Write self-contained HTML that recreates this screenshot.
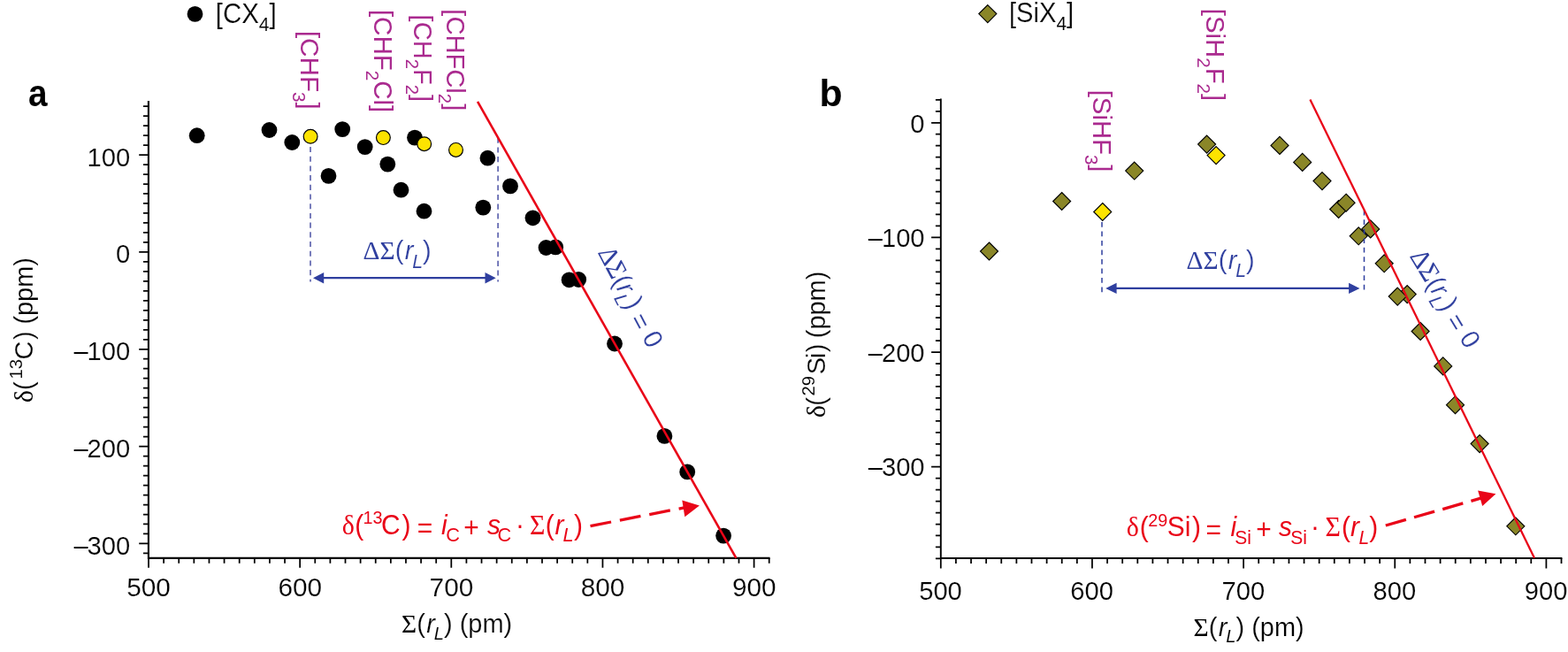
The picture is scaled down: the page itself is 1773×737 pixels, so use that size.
<!DOCTYPE html>
<html lang="en"><head><meta charset="utf-8"><title>Chemical shift versus sum of ligand radii</title>
<style>html,body{margin:0;padding:0;background:#fff}body{width:1773px;height:737px;overflow:hidden}svg{display:block}text{white-space:pre}</style>
</head><body>
<svg width="1773" height="737" viewBox="0 0 1773 737">
<rect width="1773" height="737" fill="#fff"/>
<g id="panel-a">
<path d="M167.9 114V631.95M166.85 630.9H870.59" stroke="#000" stroke-width="2.1" fill="none"/>
<path d="M168 630.9v10.8M185.12 630.9v5.9M202.23 630.9v5.9M219.34 630.9v5.9M236.46 630.9v5.9M253.57 630.9v5.9M270.69 630.9v5.9M287.81 630.9v5.9M304.92 630.9v5.9M322.03 630.9v5.9M339.15 630.9v10.8M356.26 630.9v5.9M373.38 630.9v5.9M390.5 630.9v5.9M407.61 630.9v5.9M424.73 630.9v5.9M441.84 630.9v5.9M458.95 630.9v5.9M476.07 630.9v5.9M493.19 630.9v5.9M510.3 630.9v10.8M527.41 630.9v5.9M544.53 630.9v5.9M561.64 630.9v5.9M578.76 630.9v5.9M595.88 630.9v5.9M612.99 630.9v5.9M630.11 630.9v5.9M647.22 630.9v5.9M664.34 630.9v5.9M681.45 630.9v10.8M698.57 630.9v5.9M715.68 630.9v5.9M732.79 630.9v5.9M749.91 630.9v5.9M767.02 630.9v5.9M784.14 630.9v5.9M801.25 630.9v5.9M818.37 630.9v5.9M835.49 630.9v5.9M852.6 630.9v10.8M869.72 630.9v5.9M167.9 120.12h-5.9M167.9 131.11h-5.9M167.9 142.09h-5.9M167.9 153.08h-5.9M167.9 164.06h-5.9M167.9 175.05h-10.7M167.9 186.03h-5.9M167.9 197.02h-5.9M167.9 208h-5.9M167.9 218.99h-5.9M167.9 229.97h-5.9M167.9 240.96h-5.9M167.9 251.94h-5.9M167.9 262.93h-5.9M167.9 273.91h-5.9M167.9 284.9h-10.7M167.9 295.88h-5.9M167.9 306.87h-5.9M167.9 317.85h-5.9M167.9 328.84h-5.9M167.9 339.82h-5.9M167.9 350.81h-5.9M167.9 361.79h-5.9M167.9 372.78h-5.9M167.9 383.76h-5.9M167.9 394.75h-10.7M167.9 405.74h-5.9M167.9 416.72h-5.9M167.9 427.7h-5.9M167.9 438.69h-5.9M167.9 449.67h-5.9M167.9 460.66h-5.9M167.9 471.64h-5.9M167.9 482.63h-5.9M167.9 493.62h-5.9M167.9 504.6h-10.7M167.9 515.59h-5.9M167.9 526.57h-5.9M167.9 537.55h-5.9M167.9 548.54h-5.9M167.9 559.52h-5.9M167.9 570.51h-5.9M167.9 581.5h-5.9M167.9 592.48h-5.9M167.9 603.46h-5.9M167.9 614.45h-10.7M167.9 625.43h-5.9" stroke="#000" stroke-width="1.75" fill="none"/>
<text transform="translate(147.2 187.6) scale(0.986 1)" font-family='"Liberation Sans", sans-serif' font-size="29.6" fill="#000" stroke="#fff" stroke-width="0.2" text-anchor="end">100</text>
<text transform="translate(147.2 297.45) scale(0.986 1)" font-family='"Liberation Sans", sans-serif' font-size="29.6" fill="#000" stroke="#fff" stroke-width="0.2" text-anchor="end">0</text>
<text transform="translate(147.2 407.3) scale(0.986 1)" font-family='"Liberation Sans", sans-serif' font-size="29.6" fill="#000" stroke="#fff" stroke-width="0.2" text-anchor="end"><tspan letter-spacing="-1.1">–</tspan>100</text>
<text transform="translate(147.2 517.15) scale(0.986 1)" font-family='"Liberation Sans", sans-serif' font-size="29.6" fill="#000" stroke="#fff" stroke-width="0.2" text-anchor="end"><tspan letter-spacing="-1.1">–</tspan>200</text>
<text transform="translate(147.2 627) scale(0.986 1)" font-family='"Liberation Sans", sans-serif' font-size="29.6" fill="#000" stroke="#fff" stroke-width="0.2" text-anchor="end"><tspan letter-spacing="-1.1">–</tspan>300</text>
<text transform="translate(168.1 673.7) scale(1.005 1)" font-family='"Liberation Sans", sans-serif' font-size="29.6" fill="#000" stroke="#fff" stroke-width="0.2" text-anchor="middle">500</text>
<text transform="translate(339.25 673.7) scale(1.005 1)" font-family='"Liberation Sans", sans-serif' font-size="29.6" fill="#000" stroke="#fff" stroke-width="0.2" text-anchor="middle">600</text>
<text transform="translate(510.4 673.7) scale(1.005 1)" font-family='"Liberation Sans", sans-serif' font-size="29.6" fill="#000" stroke="#fff" stroke-width="0.2" text-anchor="middle">700</text>
<text transform="translate(681.55 673.7) scale(1.005 1)" font-family='"Liberation Sans", sans-serif' font-size="29.6" fill="#000" stroke="#fff" stroke-width="0.2" text-anchor="middle">800</text>
<text transform="translate(852.7 673.7) scale(1.005 1)" font-family='"Liberation Sans", sans-serif' font-size="29.6" fill="#000" stroke="#fff" stroke-width="0.2" text-anchor="middle">900</text>
<text transform="translate(454 714.7) scale(0.965 1)" font-family='"Liberation Sans", sans-serif' font-size="30" fill="#000" stroke="#fff" stroke-width="0.2"><tspan font-family='"Liberation Serif", serif' font-size="30.5" stroke="none">Σ</tspan>(<tspan font-style="italic" dx="1.5">r</tspan><tspan font-size="21" dy="7.8" dx="-1.2" font-style="italic" stroke-width="0.1">L</tspan><tspan dy="-7.8">&#8203;</tspan>) (pm)</text>
<text transform="translate(36.8 454) rotate(-90) scale(0.965 1)" font-family='"Liberation Sans", sans-serif' font-size="30" fill="#000" stroke="#fff" stroke-width="0.2"><tspan x="-1.15" y="0" font-size="30.5" font-family='"Liberation Serif", serif' stroke="none">δ</tspan><tspan x="13.48" y="0">(</tspan><tspan x="26.48" y="-11.6" font-size="21" stroke-width="0.1">13</tspan><tspan x="49.25" y="0">C</tspan><tspan x="72.67" y="0">)</tspan><tspan x="90.57" y="0">(ppm)</tspan></text>
<text transform="translate(32.1 119.7) scale(0.9 1)" font-family='"Liberation Sans", sans-serif' font-size="43" fill="#000" font-weight="bold">a</text>
<circle cx="220.5" cy="15.9" r="8.9" fill="#000"/>
<text transform="translate(243.8 25.8) scale(0.949 1)" font-family='"Liberation Sans", sans-serif' font-size="31" fill="#000" stroke="#fff" stroke-width="0.2">[CX<tspan font-size="22.2" dy="8.7" stroke-width="0.1">4</tspan><tspan dy="-8.7">&#8203;</tspan>]</text>
<path d="M351 166V318.6M563.1 155.7V318.4" stroke="#6066b0" stroke-width="1.7" stroke-dasharray="6.1 4.6" fill="none"/>
<g fill="#000"><circle cx="222.7" cy="153.2" r="8.9"/><circle cx="304.5" cy="147" r="8.9"/><circle cx="330.3" cy="161" r="8.9"/><circle cx="387.2" cy="146.1" r="8.9"/><circle cx="412.7" cy="166.1" r="8.9"/><circle cx="438.3" cy="185.6" r="8.9"/><circle cx="371.5" cy="198.9" r="8.9"/><circle cx="453.5" cy="214.7" r="8.9"/><circle cx="469" cy="155.6" r="8.9"/><circle cx="551.4" cy="178.7" r="8.9"/><circle cx="577" cy="210.4" r="8.9"/><circle cx="479.5" cy="238.7" r="8.9"/><circle cx="546.3" cy="234.6" r="8.9"/><circle cx="602.5" cy="246.3" r="8.9"/><circle cx="617.5" cy="280" r="8.9"/><circle cx="628.2" cy="279.4" r="8.9"/><circle cx="643.6" cy="316.3" r="8.9"/><circle cx="654.2" cy="316" r="8.9"/><circle cx="695" cy="388.5" r="8.9"/><circle cx="751.4" cy="492.9" r="8.9"/><circle cx="777.2" cy="533.4" r="8.9"/><circle cx="818.1" cy="605.6" r="8.9"/></g>
<g fill="#fde300" stroke="#000" stroke-width="1.2"><circle cx="351.1" cy="154.3" r="7.9"/><circle cx="433.4" cy="155.6" r="7.9"/><circle cx="479.7" cy="162.7" r="7.9"/><circle cx="515.5" cy="169.4" r="7.9"/></g>
<path d="M540.05 114.9L832.4 630.8" stroke="#e90518" stroke-width="2.6" fill="none"/>
<path d="M364 314.2H551" stroke="#2f3f9f" stroke-width="2.2" fill="none"/>
<path d="M354 314.2l12.2 -6.3v12.6zM560.7 314.2l-12.2 -6.3v12.6z" fill="#2f3f9f"/>
<text transform="translate(410.6 293.3) scale(0.965 1)" font-family='"Liberation Sans", sans-serif' font-size="30" fill="#2f3f9f" stroke="#fff" stroke-width="0.2"><tspan font-family='"Liberation Serif", serif' font-size="30.5" stroke="none">ΔΣ</tspan>(<tspan font-style="italic" dx="1.5">r</tspan><tspan font-size="22" dy="9.2" dx="-1.2" font-style="italic" stroke-width="0.1">L</tspan><tspan dy="-9.2">&#8203;</tspan>)</text>
<text transform="translate(675.5 285.3) rotate(62.4) scale(0.965 1)" font-family='"Liberation Sans", sans-serif' font-size="30" fill="#2f3f9f" stroke="#fff" stroke-width="0.2"><tspan font-family='"Liberation Serif", serif' font-size="30.5" stroke="none">ΔΣ</tspan>(<tspan font-style="italic">r</tspan><tspan font-size="21" dy="7.8" dx="-1.2" font-style="italic" stroke-width="0.1">L</tspan><tspan dy="-7.8">&#8203;</tspan>) <tspan dy="3">=</tspan><tspan dy="-3"> 0</tspan></text>
<text transform="translate(340.3 34.9) rotate(90) scale(0.987 1)" font-family='"Liberation Sans", sans-serif' font-size="30" fill="#aa2a8f">[CHF<tspan font-size="21" dy="9.3">3</tspan><tspan dy="-9.3">&#8203;</tspan>]</text>
<text transform="translate(422.9 10.9) rotate(90) scale(0.983 1)" font-family='"Liberation Sans", sans-serif' font-size="30" fill="#aa2a8f">[CHF<tspan font-size="21" dy="9.3">2</tspan><tspan dy="-9.3">&#8203;</tspan>Cl]</text>
<text transform="translate(468.2 16.6) rotate(90) scale(0.969 1)" font-family='"Liberation Sans", sans-serif' font-size="30" fill="#aa2a8f">[CH<tspan font-size="21" dy="9.3">2</tspan><tspan dy="-9.3">&#8203;</tspan>F<tspan font-size="21" dy="9.3">2</tspan><tspan dy="-9.3">&#8203;</tspan>]</text>
<text transform="translate(504.9 10.3) rotate(90) scale(0.972 1)" font-family='"Liberation Sans", sans-serif' font-size="30" fill="#aa2a8f">[CHFCl<tspan font-size="21" dy="9.3">2</tspan><tspan dy="-9.3">&#8203;</tspan>]</text>
<text transform="translate(0 603.7) scale(0.965 1)" font-family='"Liberation Sans", sans-serif' font-size="31" fill="#e90518"><tspan x="400.7" y="0" font-family='"Liberation Serif", serif' stroke="none">δ</tspan><tspan x="415.69" y="0">(</tspan><tspan x="425.38" y="-11.6" font-size="20.5">13</tspan><tspan x="446.72" y="0">C</tspan><tspan x="470.91" y="0">)</tspan><tspan x="488.85" y="3">=</tspan><tspan x="517.01" y="0" font-style="italic">i</tspan><tspan x="522.59" y="8.7" font-size="22.5">C</tspan><tspan x="543.25" y="3">+</tspan><tspan x="570.91" y="0" font-style="italic">s</tspan><tspan x="583" y="8.7" font-size="22.5">C</tspan><tspan x="604.2" y="0">·</tspan><tspan x="620.65" y="0" font-family='"Liberation Serif", serif' stroke="none">Σ</tspan><tspan x="639.22" y="0">(</tspan><tspan x="650.26" y="0" font-style="italic">r</tspan><tspan x="659.72" y="8.7" font-size="22.5" font-style="italic">L</tspan><tspan x="672.56" y="0">)</tspan></text>
<path d="M667.5 594.6L775 573.6" stroke="#e90518" stroke-width="3.3" stroke-dasharray="24 10" fill="none"/>
<path d="M790.9 571.4L771.3 565.5L774.3 584.2z" fill="#e90518"/>
</g>
<g id="panel-b">
<path d="M1063.8 111.5V631.95M1062.85 631H1766.39" stroke="#000" stroke-width="1.9" fill="none"/>
<path d="M1063.8 631v11.6M1080.91 631v6.1M1098.03 631v6.1M1115.14 631v6.1M1132.26 631v6.1M1149.38 631v6.1M1166.49 631v6.1M1183.61 631v6.1M1200.72 631v6.1M1217.84 631v6.1M1234.95 631v11.6M1252.07 631v6.1M1269.18 631v6.1M1286.3 631v6.1M1303.41 631v6.1M1320.53 631v6.1M1337.64 631v6.1M1354.75 631v6.1M1371.87 631v6.1M1388.98 631v6.1M1406.1 631v11.6M1423.21 631v6.1M1440.33 631v6.1M1457.44 631v6.1M1474.56 631v6.1M1491.67 631v6.1M1508.79 631v6.1M1525.9 631v6.1M1543.02 631v6.1M1560.13 631v6.1M1577.25 631v11.6M1594.37 631v6.1M1611.48 631v6.1M1628.59 631v6.1M1645.71 631v6.1M1662.82 631v6.1M1679.94 631v6.1M1697.05 631v6.1M1714.17 631v6.1M1731.28 631v6.1M1748.4 631v11.6M1765.51 631v6.1M1063.8 112.82h-5.9M1063.8 125.78h-5.9M1063.8 138.75h-10.7M1063.8 151.72h-5.9M1063.8 164.68h-5.9M1063.8 177.64h-5.9M1063.8 190.61h-5.9M1063.8 203.57h-5.9M1063.8 216.54h-5.9M1063.8 229.5h-5.9M1063.8 242.47h-5.9M1063.8 255.44h-5.9M1063.8 268.4h-10.7M1063.8 281.37h-5.9M1063.8 294.33h-5.9M1063.8 307.29h-5.9M1063.8 320.26h-5.9M1063.8 333.23h-5.9M1063.8 346.19h-5.9M1063.8 359.15h-5.9M1063.8 372.12h-5.9M1063.8 385.09h-5.9M1063.8 398.05h-10.7M1063.8 411.01h-5.9M1063.8 423.98h-5.9M1063.8 436.94h-5.9M1063.8 449.91h-5.9M1063.8 462.88h-5.9M1063.8 475.84h-5.9M1063.8 488.81h-5.9M1063.8 501.77h-5.9M1063.8 514.74h-5.9M1063.8 527.7h-10.7M1063.8 540.66h-5.9M1063.8 553.63h-5.9M1063.8 566.6h-5.9M1063.8 579.56h-5.9M1063.8 592.52h-5.9M1063.8 605.49h-5.9M1063.8 618.45h-5.9M1063.8 631.42h-5.9" stroke="#000" stroke-width="1.75" fill="none"/>
<text transform="translate(1045.6 149.5) scale(0.986 1)" font-family='"Liberation Sans", sans-serif' font-size="29.6" fill="#000" stroke="#fff" stroke-width="0.2" text-anchor="end">0</text>
<text transform="translate(1045.6 279.15) scale(0.986 1)" font-family='"Liberation Sans", sans-serif' font-size="29.6" fill="#000" stroke="#fff" stroke-width="0.2" text-anchor="end"><tspan letter-spacing="-1.1">–</tspan>100</text>
<text transform="translate(1045.6 408.8) scale(0.986 1)" font-family='"Liberation Sans", sans-serif' font-size="29.6" fill="#000" stroke="#fff" stroke-width="0.2" text-anchor="end"><tspan letter-spacing="-1.1">–</tspan>200</text>
<text transform="translate(1045.6 538.45) scale(0.986 1)" font-family='"Liberation Sans", sans-serif' font-size="29.6" fill="#000" stroke="#fff" stroke-width="0.2" text-anchor="end"><tspan letter-spacing="-1.1">–</tspan>300</text>
<text transform="translate(1063.5 677.6) scale(0.986 1)" font-family='"Liberation Sans", sans-serif' font-size="29.6" fill="#000" stroke="#fff" stroke-width="0.2" text-anchor="middle">500</text>
<text transform="translate(1234.65 677.6) scale(0.986 1)" font-family='"Liberation Sans", sans-serif' font-size="29.6" fill="#000" stroke="#fff" stroke-width="0.2" text-anchor="middle">600</text>
<text transform="translate(1405.8 677.6) scale(0.986 1)" font-family='"Liberation Sans", sans-serif' font-size="29.6" fill="#000" stroke="#fff" stroke-width="0.2" text-anchor="middle">700</text>
<text transform="translate(1576.95 677.6) scale(0.986 1)" font-family='"Liberation Sans", sans-serif' font-size="29.6" fill="#000" stroke="#fff" stroke-width="0.2" text-anchor="middle">800</text>
<text transform="translate(1748.1 677.6) scale(0.986 1)" font-family='"Liberation Sans", sans-serif' font-size="29.6" fill="#000" stroke="#fff" stroke-width="0.2" text-anchor="middle">900</text>
<text transform="translate(1349.5 718.6) scale(0.965 1)" font-family='"Liberation Sans", sans-serif' font-size="30" fill="#000" stroke="#fff" stroke-width="0.2"><tspan font-family='"Liberation Serif", serif' font-size="30.5" stroke="none">Σ</tspan>(<tspan font-style="italic" dx="1.5">r</tspan><tspan font-size="21" dy="7.8" dx="-1.2" font-style="italic" stroke-width="0.1">L</tspan><tspan dy="-7.8">&#8203;</tspan>) (pm)</text>
<text transform="translate(932.9 470.9) rotate(-90) scale(0.965 1)" font-family='"Liberation Sans", sans-serif' font-size="30" fill="#000" stroke="#fff" stroke-width="0.2"><tspan x="-1.15" y="0" font-size="30.5" font-family='"Liberation Serif", serif' stroke="none">δ</tspan><tspan x="12.65" y="0">(</tspan><tspan x="24.33" y="-11.6" font-size="21" stroke-width="0.1">29</tspan><tspan x="49.41" y="0">S</tspan><tspan x="68.15" y="0">i</tspan><tspan x="75.26" y="0">)</tspan><tspan x="91.92" y="0">(ppm)</tspan></text>
<text transform="translate(926.5 119.7)" font-family='"Liberation Sans", sans-serif' font-size="42.7" fill="#000" font-weight="bold">b</text>
<path d="M1116.8 5.6l10 10l-10 10l-10 -10z" fill="#8a8628" stroke="#000" stroke-width="1.15"/>
<text transform="translate(1141 25.2) scale(0.94 1)" font-family='"Liberation Sans", sans-serif' font-size="31" fill="#000" stroke="#fff" stroke-width="0.2">[SiX<tspan font-size="22.2" dy="8.7" stroke-width="0.1">4</tspan><tspan dy="-8.7">&#8203;</tspan>]</text>
<g fill="#8a8628" stroke="#000" stroke-width="1.15"><path d="M1118.5 274l10 10l-10 10l-10 -10z"/><path d="M1200.6 217.5l10 10l-10 10l-10 -10z"/><path d="M1282.7 183.05l10 10l-10 10l-10 -10z"/><path d="M1364.6 153.1l10 10l-10 10l-10 -10z"/><path d="M1447 154.4l10 10l-10 10l-10 -10z"/><path d="M1472.7 173.4l10 10l-10 10l-10 -10z"/><path d="M1495 194.6l10 10l-10 10l-10 -10z"/><path d="M1513.6 226.5l10 10l-10 10l-10 -10z"/><path d="M1522.1 219.2l10 10l-10 10l-10 -10z"/><path d="M1549.7 248.9l10 10l-10 10l-10 -10z"/><path d="M1536.2 256.8l10 10l-10 10l-10 -10z"/><path d="M1565.2 287.8l10 10l-10 10l-10 -10z"/><path d="M1591.2 322.6l10 10l-10 10l-10 -10z"/><path d="M1580.2 325.1l10 10l-10 10l-10 -10z"/><path d="M1606.1 364.5l10 10l-10 10l-10 -10z"/><path d="M1631.7 403.9l10 10l-10 10l-10 -10z"/><path d="M1645.5 447.7l10 10l-10 10l-10 -10z"/><path d="M1673.1 491.6l10 10l-10 10l-10 -10z"/><path d="M1713.8 584.8l10 10l-10 10l-10 -10z"/></g>
<g fill="#fde300" stroke="#000" stroke-width="1.15"><path d="M1246.7 229.5l10 10l-10 10l-10 -10z"/><path d="M1375.1 165.6l10 10l-10 10l-10 -10z"/></g>
<path d="M1246 251V332.7M1542.5 237.8V328.3" stroke="#2f3f9f" stroke-width="1.5" stroke-dasharray="5.8 4.7" fill="none"/>
<path d="M1481.4 112.4L1735 630.7" stroke="#e90518" stroke-width="2.3" fill="none"/>
<path d="M1260 325.9H1528" stroke="#2f3f9f" stroke-width="2.3" fill="none"/>
<path d="M1250.2 325.9l12.4 -6.2v12.4zM1537.5 325.9l-12.4 -6.2v12.4z" fill="#2f3f9f"/>
<text transform="translate(1341.6 303.8) scale(0.965 1)" font-family='"Liberation Sans", sans-serif' font-size="30" fill="#2f3f9f" stroke="#fff" stroke-width="0.2"><tspan font-family='"Liberation Serif", serif' font-size="30.5" stroke="none">ΔΣ</tspan>(<tspan font-style="italic" dx="1.5">r</tspan><tspan font-size="22" dy="9.2" dx="-1.2" font-style="italic" stroke-width="0.1">L</tspan><tspan dy="-9.2">&#8203;</tspan>)</text>
<text transform="translate(1593.4 289.6) rotate(58.7) scale(0.965 1)" font-family='"Liberation Sans", sans-serif' font-size="30" fill="#2f3f9f" stroke="#fff" stroke-width="0.2"><tspan font-family='"Liberation Serif", serif' font-size="30.5" stroke="none">ΔΣ</tspan>(<tspan font-style="italic">r</tspan><tspan font-size="21" dy="7.8" dx="-1.2" font-style="italic" stroke-width="0.1">L</tspan><tspan dy="-7.8">&#8203;</tspan>) <tspan dy="3">=</tspan><tspan dy="-3"> 0</tspan></text>
<text transform="translate(1235.9 101.7) rotate(90) scale(0.977 1)" font-family='"Liberation Sans", sans-serif' font-size="30" fill="#aa2a8f">[SiHF<tspan font-size="21" dy="9.3">3</tspan><tspan dy="-9.3">&#8203;</tspan>]</text>
<text transform="translate(1363.6 9.8) rotate(90) scale(0.978 1)" font-family='"Liberation Sans", sans-serif' font-size="30" fill="#aa2a8f">[SiH<tspan font-size="21" dy="9.3">2</tspan><tspan dy="-9.3">&#8203;</tspan>F<tspan font-size="21" dy="9.3">2</tspan><tspan dy="-9.3">&#8203;</tspan>]</text>
<text transform="translate(0 606.2) scale(0.965 1)" font-family='"Liberation Sans", sans-serif' font-size="31" fill="#e90518"><tspan x="1319.97" y="0" font-family='"Liberation Serif", serif' stroke="none">δ</tspan><tspan x="1335.49" y="0">(</tspan><tspan x="1345.39" y="-11.6" font-size="20.5">29</tspan><tspan x="1367.71" y="0">Si</tspan><tspan x="1397.02" y="0">)</tspan><tspan x="1412.89" y="3">=</tspan><tspan x="1441.99" y="0" font-style="italic">i</tspan><tspan x="1446.99" y="8.8" font-size="21.8">Si</tspan><tspan x="1471.75" y="3">+</tspan><tspan x="1498.58" y="0" font-style="italic">s</tspan><tspan x="1512.17" y="8.8" font-size="21.8">Si</tspan><tspan x="1535.8" y="0">·</tspan><tspan x="1552.78" y="0" font-family='"Liberation Serif", serif' stroke="none">Σ</tspan><tspan x="1571.96" y="0">(</tspan><tspan x="1582.39" y="0" font-style="italic">r</tspan><tspan x="1592.18" y="8.8" font-size="21.8" font-style="italic">L</tspan><tspan x="1604.48" y="0">)</tspan></text>
<path d="M1566.8 594L1676 562.7" stroke="#e90518" stroke-width="3.3" stroke-dasharray="24 9.5" fill="none"/>
<path d="M1691.4 558.3L1671.1 554.6L1676.2 572.1z" fill="#e90518"/>
</g>
</svg>
</body></html>
